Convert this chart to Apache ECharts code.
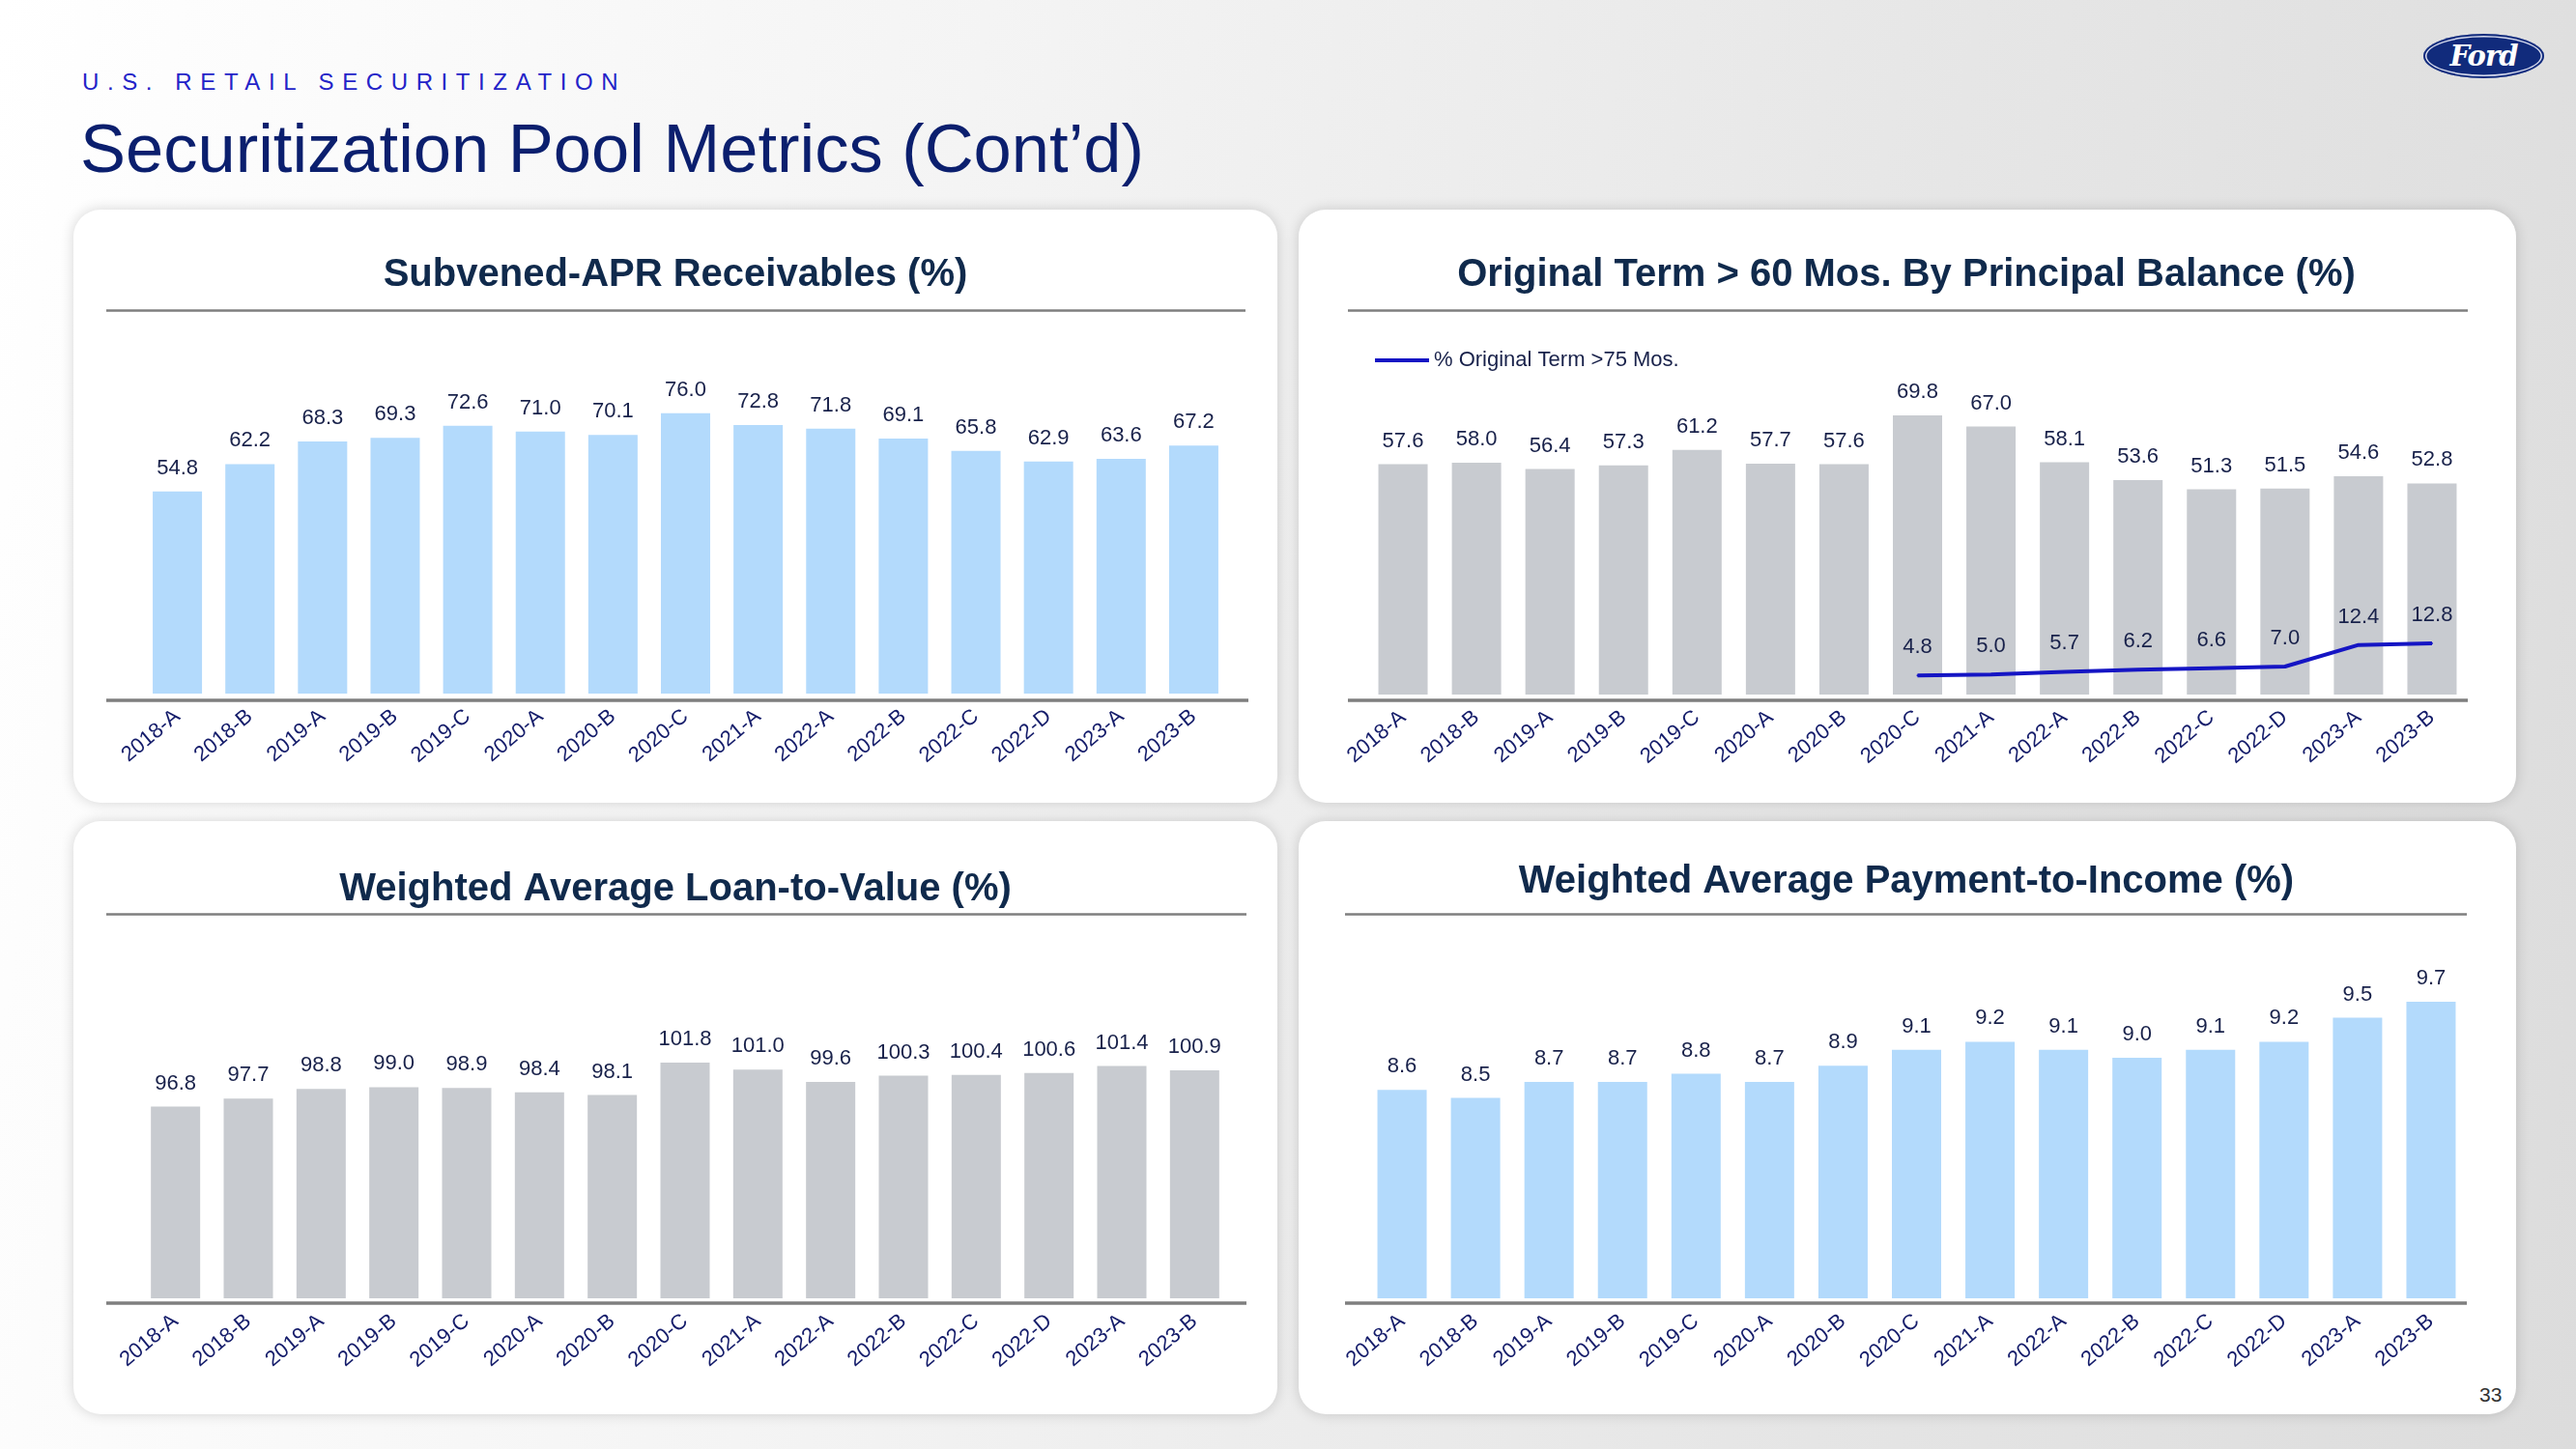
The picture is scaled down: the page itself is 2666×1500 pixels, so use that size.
<!DOCTYPE html>
<html>
<head>
<meta charset="utf-8">
<script src="https://cdn.jsdelivr.net/npm/echarts@6/dist/echarts.min.js"></script>
<style>
  html, body { margin:0; padding:0; width:2666px; height:1500px; overflow:hidden; }
  body { background: linear-gradient(100deg, #ffffff 0%, #f4f4f4 35%, #e6e6e6 70%, #dcdcdc 100%); font-family: 'Liberation Sans', Arial, sans-serif; position:relative; }
  .panel { position:absolute; background:#fff; border-radius:28px; box-shadow: 0 0 14px rgba(0,0,0,0.16); }
  #sub { position:absolute; left:85px; top:70px; font-size:24px; letter-spacing:8.6px; color:#2323c8; line-height:30px; white-space:nowrap; }
  #title { position:absolute; left:83px; top:112px; font-size:70.5px; color:#0b1f6e; line-height:84px; white-space:nowrap; }
  #logo { position:absolute; left:2508px; top:35px; width:125px; height:46px; border-radius:50%; background:#112b7c; box-shadow: inset 0 0 0 2px #112b7c, inset 0 0 0 3.5px #d8dcef; color:#fff; text-align:center; font-family:'DejaVu Serif', serif; font-style:italic; font-weight:bold; font-size:29px; line-height:46px; letter-spacing:-1px; }
  #pg { position:absolute; left:2566px; top:1432px; font-size:21px; color:#333; }
  #chart { position:absolute; left:0; top:0; width:2666px; height:1500px; }
</style>
</head>
<body>
<div class="panel" style="left:76px; top:217px; width:1246px; height:614px;"></div>
<div class="panel" style="left:1344px; top:217px; width:1260px; height:614px;"></div>
<div class="panel" style="left:76px; top:850px; width:1246px; height:614px;"></div>
<div class="panel" style="left:1344px; top:850px; width:1260px; height:614px;"></div>
<div id="sub">U.S. RETAIL SECURITIZATION</div>
<div id="title">Securitization Pool Metrics (Cont’d)</div>
<div id="logo">Ford</div>
<div id="pg">33</div>
<div id="chart"></div>
<script>
const categories = ['2018-A','2018-B','2019-A','2019-B','2019-C','2020-A','2020-B','2020-C','2021-A','2022-A','2022-B','2022-C','2022-D','2023-A','2023-B'];
const subvenedApr = [54.8,62.2,68.3,69.3,72.6,71.0,70.1,76.0,72.8,71.8,69.1,65.8,62.9,63.6,67.2];
const termOver60 = [57.6,58.0,56.4,57.3,61.2,57.7,57.6,69.8,67.0,58.1,53.6,51.3,51.5,54.6,52.8];
const termOver75 = [null,null,null,null,null,null,null,4.8,5.0,5.7,6.2,6.6,7.0,12.4,12.8];
const loanToValue = [96.8,97.7,98.8,99.0,98.9,98.4,98.1,101.8,101.0,99.6,100.3,100.4,100.6,101.4,100.9];
const paymentToIncome = [8.6,8.5,8.7,8.7,8.8,8.7,8.9,9.1,9.2,9.1,9.0,9.1,9.2,9.5,9.7];

const chartTitles = ['Subvened-APR Receivables (%)','Original Term > 60 Mos. By Principal Balance (%)','Weighted Average Loan-to-Value (%)','Weighted Average Payment-to-Income (%)'];
const legendName = '% Original Term >75 Mos.';

const FONT = "'Liberation Sans', Arial, sans-serif";
const BLUE_BAR = '#b3dafc';
const GRAY_BAR = '#c8cbd0';
const VAL_COLOR = '#18214a';
const XLAB_COLOR = '#141c6a';
const TITLE_COLOR = '#102a4c';
const RULE = '#7f7f7f';
const LINE_COLOR = '#1515c4';

const grids = [
  {left:146, top:336, width:1127, height:382},
  {left:1414, top:305, width:1141, height:414},
  {left:144, top:1007, width:1130, height:337},
  {left:1413, top:1012, width:1141, height:332}
];
const yRanges = [[0,100],[0,100],[75,112],[6,10]];

const xAxes = grids.map((g,i)=>({
  type:'category', gridIndex:i, data:categories,
  axisLine:{show:false}, axisTick:{show:false},
  axisLabel:{interval:0, rotate:40, margin:21, fontSize:22, color:XLAB_COLOR, fontFamily:FONT}
}));
const yAxes = grids.map((g,i)=>({
  type:'value', gridIndex:i, min:yRanges[i][0], max:yRanges[i][1], show:false, splitLine:{show:false}
}));

const valLabel = (d)=>({show:true, position:'top', distance:d, fontSize:22, color:VAL_COLOR, fontFamily:FONT,
  formatter:(p)=> (p.value==null?'':Number(p.value).toFixed(1))});

const series = [
  {type:'bar', xAxisIndex:0, yAxisIndex:0, data:subvenedApr, barWidth:51, itemStyle:{color:BLUE_BAR}, label:valLabel(13)},
  {type:'bar', xAxisIndex:1, yAxisIndex:1, data:termOver60, barWidth:51, itemStyle:{color:GRAY_BAR}, label:valLabel(13)},
  {type:'line', name:legendName, xAxisIndex:1, yAxisIndex:1, data:termOver75, symbol:'circle', symbolSize:2, showSymbol:true, connectNulls:false,
    lineStyle:{color:LINE_COLOR, width:4}, itemStyle:{color:LINE_COLOR}, label:valLabel(17), z:5},
  {type:'bar', xAxisIndex:2, yAxisIndex:2, data:loanToValue, barWidth:51, itemStyle:{color:GRAY_BAR}, label:valLabel(13)},
  {type:'bar', xAxisIndex:3, yAxisIndex:3, data:paymentToIncome, barWidth:51, itemStyle:{color:BLUE_BAR}, label:valLabel(13)}
];

function hline(x1,x2,y,w){ return {type:'line', shape:{x1:x1,y1:y,x2:x2,y2:y}, style:{stroke:RULE, lineWidth:w}, silent:true}; }
function ttl(x,y,t){ return {type:'text', x:x, y:y, style:{text:t, font:"bold 40px 'Liberation Sans', Arial, sans-serif", fill:TITLE_COLOR, align:'center', verticalAlign:'middle'}, silent:true}; }

const graphics = [
  ttl(699,285,chartTitles[0]), ttl(1973,285,chartTitles[1]), ttl(699,921,chartTitles[2]), ttl(1973,913,chartTitles[3]),
  hline(110,1289,321.5,2.5), hline(1395,2554,321.5,2.5), hline(110,1290,946.5,2.5), hline(1392,2553,946.5,2.5),
  hline(110,1292,725,3.5), hline(1395,2554,725,3.5), hline(110,1290,1349,3.5), hline(1392,2553,1349,3.5)
];

const chart = echarts.init(document.getElementById('chart'), null, {renderer:'canvas'});
chart.setOption({
  backgroundColor:'transparent',
  animation:false,
  grid: grids,
  xAxis: xAxes,
  yAxis: yAxes,
  legend: {data:[legendName], left:1418, top:357, icon:'rect', itemWidth:56, itemHeight:4, itemGap:10,
    textStyle:{fontSize:22, color:VAL_COLOR, fontFamily:FONT}},
  series: series,
  graphic: graphics
});
</script>
</body>
</html>
